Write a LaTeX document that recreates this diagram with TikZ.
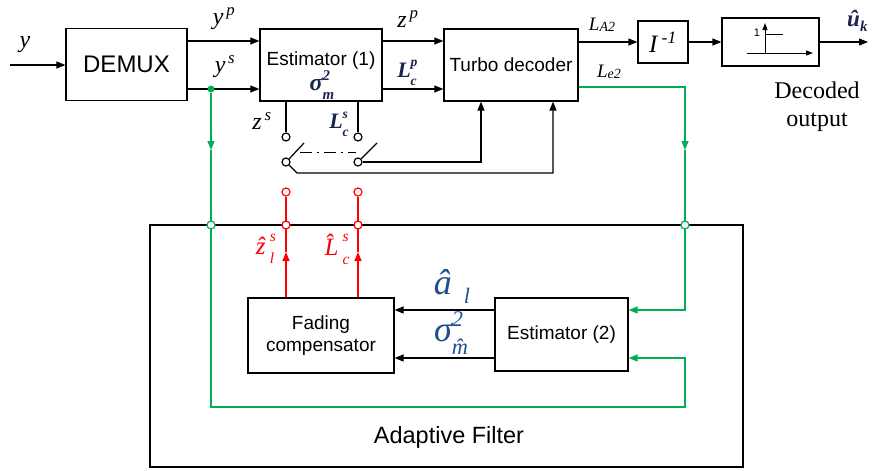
\documentclass[tikz,border=0pt]{standalone}
\usepackage{fontspec}
\setmainfont{Liberation Sans}
\newfontfamily\tms{Liberation Serif}
\usetikzlibrary{arrows.meta}
\definecolor{grn}{RGB}{0,176,80}
\definecolor{rd}{RGB}{255,0,0}
\definecolor{blu}{RGB}{31,78,145}
\definecolor{nvy}{RGB}{25,35,80}
% stacked superscript / subscript with clear vertical separation
\newcommand{\SupSub}[3][0.45em]{\rlap{\raisebox{#1}{\fontsize{0.62em}{0.7em}\selectfont #2}}\raisebox{-0.36em}{\fontsize{0.62em}{0.7em}\selectfont #3}}
\begin{document}
\begin{tikzpicture}[x=1pt,y=-1pt,
  box/.style={draw,line width=1.2pt,inner sep=0pt,align=center,font=\fontsize{19}{22}\selectfont},
  bl/.style={line width=1.2pt},
  arr/.style={line width=1.2pt,-{Triangle[length=9pt,width=7pt]}},
  sarr/.style={line width=1pt,-{Triangle[length=7pt,width=5pt]}},
  gl/.style={grn,line width=1.2pt},
  garr/.style={grn,line width=1.2pt,-{Triangle[length=9pt,width=7pt]}},
  rl/.style={rd,line width=1.2pt},
  rarr/.style={rd,line width=1.2pt,-{Triangle[length=9pt,width=7pt]}},
  circ/.style={circle,draw,line width=1.2pt,fill=white,minimum size=8pt,inner sep=0pt},
  gcirc/.style={circ,draw=grn},
  rcirc/.style={circ,draw=rd},
  gdot/.style={circle,fill=grn,minimum size=7pt,inner sep=0pt},
  mlab/.style={inner sep=0pt,font=\tms\itshape\fontsize{24}{26}\selectfont},
  blab/.style={inner sep=0pt,text=nvy,font=\tms\bfseries\itshape\fontsize{22}{24}\selectfont},
  bigblab/.style={inner sep=0pt,text=blu,font=\tms\itshape\fontsize{36}{38}\selectfont},
  redlab/.style={inner sep=0pt,text=rd,font=\tms\itshape\fontsize{25}{27}\selectfont}
]
\useasboundingbox (0,0) rectangle (873,471);

% big adaptive filter box
\node[draw,line width=1.2pt,minimum width=593pt,minimum height=242pt,inner sep=0pt] (af) at (446.5,346) {};
\node[inner sep=0pt,font=\fontsize{23.5}{26}\selectfont] (aflab) at (449,437) {Adaptive Filter};

% main blocks
\node[box,minimum width=121pt,minimum height=72pt,font=\fontsize{24}{26}\selectfont] (demux) at (126.5,64.5) {DEMUX};
\node[box,minimum width=122pt,minimum height=72pt] (est1) at (321,65) {};
\node[inner sep=0pt,font=\fontsize{19}{22}\selectfont] (est1lab) at (321,61) {Estimator (1)};
\node[box,minimum width=134pt,minimum height=72pt] (turbo) at (511,65) {Turbo decoder};
\node[box,minimum width=50pt,minimum height=42pt,font=\tms\itshape\fontsize{25}{27}\selectfont] (iinv) at (663,42) {I\,\textsuperscript{-1}};
\node[box,minimum width=97pt,minimum height=48pt] (thr) at (770.5,42) {};
\node[box,minimum width=133pt,minimum height=73pt] (est2) at (561.5,334.5) {Estimator (2)};
\node[box,minimum width=146pt,minimum height=75pt] (fading) at (321,335.5) {Fading\\compensator};

% coordinates
\coordinate (ra) at (0,41);
\coordinate (rb) at (0,89);
\coordinate (le) at (0,87);
\coordinate (yin) at (10,65);
\coordinate (uout) at (868,42);

% top signal path
\draw[arr] (yin) -- (demux.west |- yin);
\draw[arr] (demux.east |- ra) -- (est1.west |- ra);
\draw[arr] (demux.east |- rb) -- (est1.west |- rb);
\draw[arr] (est1.east |- ra) -- (turbo.west |- ra);
\draw[arr] (est1.east |- rb) -- (turbo.west |- rb);
\draw[arr] (turbo.east |- iinv) -- (iinv.west);
\draw[arr] (iinv.east) -- (thr.west);
\draw[arr] (thr.east) -- (uout);

% threshold symbol
\coordinate (t1) at (747,53);
\coordinate (t2) at (813,53);
\coordinate (t3) at (765,53);
\coordinate (t4) at (765,23);
\coordinate (t5) at (765,34);
\coordinate (t6) at (783,34);
\draw[sarr] (t1) -- (t2);
\draw[sarr] (t3) -- (t4);
\draw[line width=1pt] (t5) -- (t6);
\node[inner sep=0pt,font=\fontsize{11}{12}\selectfont] (one) at (757,33) {1};

% green paths
\node[gdot] (gd) at (211,89) {};
\coordinate (ga1) at (211,150);
\coordinate (gl1) at (211,407);
\coordinate (gl2) at (685,407);
\coordinate (gl3) at (685,358);
\coordinate (gb1) at (685,150);
\coordinate (gb2) at (685,310);
\draw[garr] (gd) -- (ga1);
\draw[garr] (ga1) -- (gl1) -- (gl2) -- (gl3) -- (est2.east |- gl3);
\draw[garr] (turbo.east |- le) -| (gb1);
\draw[garr] (gb1) -- (gb2) -- (est2.east |- gb2);
\node[gcirc] (gc1) at (211,225) {};
\node[gcirc] (gc2) at (685,225) {};

% switch
\node[circ] (sc1) at (286,137) {};
\node[circ] (sc2) at (358,137) {};
\node[circ] (sc3) at (286,162) {};
\node[circ] (sc4) at (358,162) {};
\draw[bl] (est1.south -| sc1) -- (sc1);
\draw[bl] (est1.south -| sc2) -- (sc2);
\coordinate (bl1) at (304,143);
\coordinate (bl2) at (377,143);
\draw[bl] (sc3.north east) -- (bl1);
\draw[bl] (sc4.north east) -- (bl2);
\coordinate (dd1) at (300,152);
\coordinate (dd2) at (356,152);
\draw[line width=1pt,dash pattern=on 12pt off 5pt on 2pt off 5pt] (dd1) -- (dd2);
\draw[arr] (sc4.east) -| ([xshift=-30pt]turbo.south);
\coordinate (sw1) at (297,173);
\draw[arr] (sc3.south east) -- (sw1) -| ([xshift=42pt]turbo.south);

% estimator 2 -> fading
\coordinate (ea) at (0,310);
\coordinate (eb) at (0,358);
\draw[arr] (est2.west |- ea) -- (fading.east |- ea);
\draw[arr] (est2.west |- eb) -- (fading.east |- eb);

% red paths
\coordinate (rx1) at (286,0);
\coordinate (rx2) at (358,0);
\coordinate (ra1) at (286,252);
\coordinate (ra2) at (358,252);
\node[rcirc] (rc1) at (286,192) {};
\node[rcirc] (rc3) at (358,192) {};
\draw[rarr] (fading.north -| rx1) -- (ra1);
\draw[rarr] (fading.north -| rx2) -- (ra2);
\draw[rl] (ra1) -- (rc1);
\draw[rl] (ra2) -- (rc3);
\node[rcirc] (rc2) at (286,225) {};
\node[rcirc] (rc4) at (358,225) {};

% labels
\node[mlab] (ly) at (25,45) {y};
\node[mlab] (lyp) at (224,19) {y\textsuperscript{\,p}};
\node[mlab] (lys) at (225,67) {y\textsuperscript{\,s}};
\node[mlab] (lzp) at (408,19) {z\textsuperscript{\,p}};
\node[blab] (lLcp) at (407,73) {L\SupSub[0.5em]{p}{c}};
\node[blab,font=\tms\bfseries\itshape\fontsize{24}{26}\selectfont] (lsig) at (322,85) {σ\SupSub[0.4em]{2}{m}};
\node[mlab] (lzs) at (262,121) {z\textsuperscript{\,s}};
\node[blab] (lLcs) at (339,124) {L\SupSub[0.45em]{s}{c}};
\node[inner sep=0pt,font=\tms\itshape\fontsize{19}{20}\selectfont] (lLA) at (602,25) {L\raisebox{-1pt}{\fontsize{14}{15}\selectfont A2}};
\node[inner sep=0pt,font=\tms\itshape\fontsize{19}{20}\selectfont] (lLe) at (609,72) {L\raisebox{-1pt}{\fontsize{14}{15}\selectfont e2}};
\node[blab,anchor=west,font=\tms\bfseries\itshape\fontsize{23}{25}\selectfont] (luk) at (847,21) {\^{u}\raisebox{-0.2em}{\fontsize{15}{16}\selectfont k}};
\node[inner sep=0pt,align=center,font=\tms\fontsize{24}{28}\selectfont] (ldec) at (817,107) {Decoded\\output};
\node[redlab] (lzl) at (265,249) {\^{z}\,\SupSub[0.5em]{s}{l}};
\node[redlab] (lLc) at (337,249) {\^{L}\,\SupSub[0.55em]{s}{c}};
\node[bigblab] (lal) at (452,286) {\^{a}\,\,\raisebox{-0.25em}{\fontsize{22}{24}\selectfont l}};
\node[bigblab] (lsm) at (451,333) {σ\SupSub[0.4em]{2}{\^{m}}};
\end{tikzpicture}
\end{document}
